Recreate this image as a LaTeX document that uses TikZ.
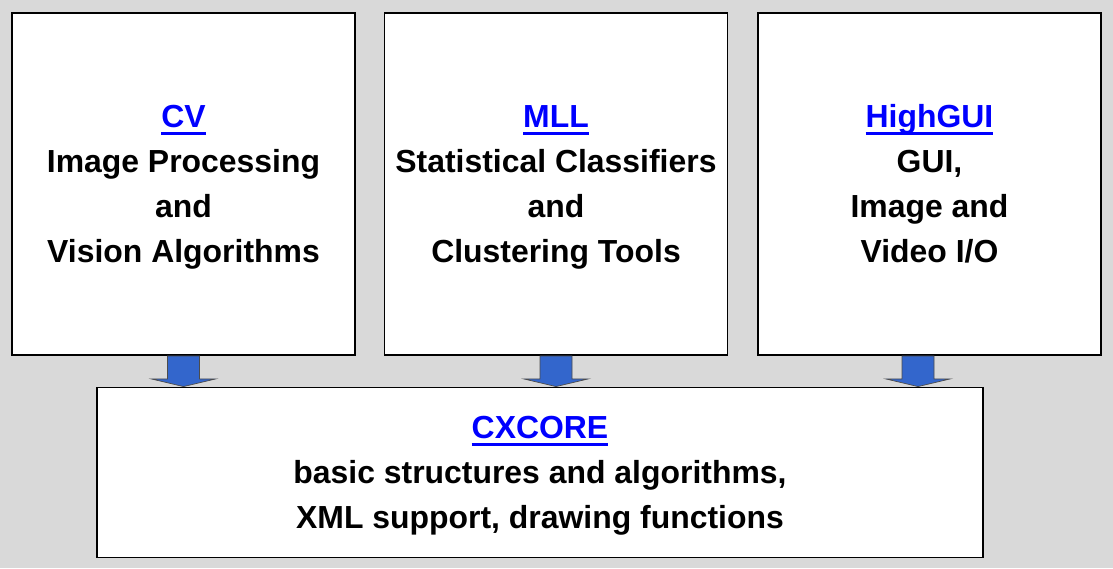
\documentclass[tikz,border=0pt]{standalone}
\usepackage{fontspec}
\setmainfont{Liberation Sans}
\usepackage{xcolor}
\usetikzlibrary{calc}

\definecolor{linkblue}{RGB}{0,0,255}
\definecolor{arrowblue}{RGB}{51,102,204}
\definecolor{backgray}{RGB}{217,217,217}

% underlined blue title (with a fixed first-line height)
\newcommand\lnk[1]{\rule{0pt}{22pt}\textcolor{linkblue}{\setbox0\hbox{#1}\rlap{\rule[-5.5pt]{\wd0}{2.2pt}}\box0}}
% fixed depth of the last line
\newcommand\lastln{\rule[-6pt]{0pt}{0pt}}

\tikzset{
  modbox/.style={draw=black, fill=white, line width=1.3pt, align=center,
    inner sep=0pt, minimum width=8.575cm, minimum height=8.55cm},
  corebox/.style={modbox, minimum width=22.15cm, minimum height=4.25cm},
  blockarrow/.style={fill=arrowblue, draw=black!70, line width=0.5pt, line join=miter}
}

\begin{document}
\begin{tikzpicture}[x=0.025cm, y=-0.025cm, font=\bfseries\fontsize{22.7}{32}\selectfont]

\fill[backgray] (0,0) rectangle (1113,568);
\useasboundingbox (0,0) rectangle (1113,568);

%-- module boxes
\node[modbox] (cv)  at (183.5,184) {\lnk{CV}\\Image Processing\\and\\Vision Algorithms\lastln};
\node[modbox] (mll) at (556,184)   {\lnk{MLL}\\Statistical Classifiers\\and\\Clustering Tools\lastln};
\node[modbox] (gui) at (929.5,184) {\lnk{HighGUI}\\GUI,\\Image and\\Video I/O\lastln};

\node[corebox] (core) at (540,472.5)
  {\lnk{CXCORE}\\basic structures and algorithms,\\XML support, drawing functions\lastln};

%-- block arrows into the core
\foreach \n/\dx in {cv/0, mll/0, gui/-11.5}
  \draw[blockarrow]
    ($(\n.south)+(\dx-16,0)$) -- ++(0,23) -- ++(-16,0)
    -- ($(\n.south |- core.north)+(\dx,0)$)
    -- ($(\n.south)+(\dx+32,23)$) -- ++(-16,0) -- ++(0,-23) -- cycle;

\end{tikzpicture}
\end{document}
